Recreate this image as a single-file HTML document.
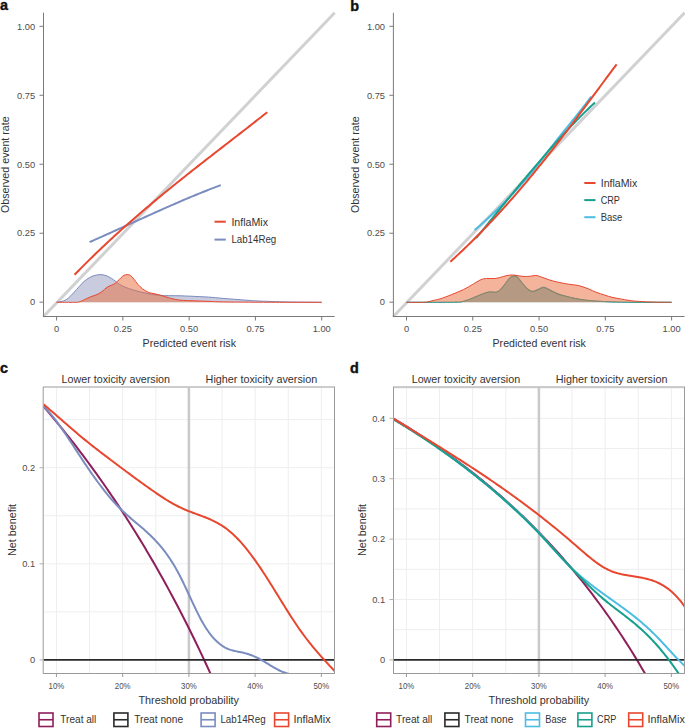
<!DOCTYPE html>
<html><head><meta charset="utf-8"><style>
html,body{margin:0;padding:0;background:#fff;width:685px;height:728px;overflow:hidden}
svg{display:block;font-family:"Liberation Sans", sans-serif}
</style></head><body>
<svg width="685" height="728" viewBox="0 0 685 728">
<rect width="685" height="728" fill="#fff"/>
<g id="panel-a">
<line x1="43.5" y1="316.5" x2="334.7" y2="12.7" stroke="#d0d1d3" stroke-width="3" stroke-linecap="butt"/>
<path d="M56.6,302.3 C57.33,302.18 59.38,302.03 61,301.6 C62.62,301.17 64.63,300.72 66.3,299.7 C67.97,298.68 69.28,297.2 71,295.5 C72.72,293.8 74.85,291.42 76.6,289.5 C78.35,287.58 79.8,285.7 81.5,284 C83.2,282.3 84.88,280.63 86.8,279.3 C88.72,277.97 90.78,276.78 93,276 C95.22,275.22 97.93,274.67 100.1,274.6 C102.27,274.53 104.13,274.98 106,275.6 C107.87,276.22 109.72,277.37 111.3,278.3 C112.88,279.23 114.13,280.18 115.5,281.2 C116.87,282.22 117.83,283.38 119.5,284.4 C121.17,285.42 123.47,286.45 125.5,287.3 C127.53,288.15 129.28,288.75 131.7,289.5 C134.12,290.25 137.27,291.12 140,291.8 C142.73,292.48 145.43,293.07 148.1,293.6 C150.77,294.13 153.28,294.67 156,295 C158.72,295.33 161.73,295.48 164.4,295.6 C167.07,295.72 169.4,295.67 172,295.7 C174.6,295.73 177,295.72 180,295.8 C183,295.88 185.25,295.98 190,296.2 C194.75,296.42 203.17,296.75 208.5,297.1 C213.83,297.45 217.63,297.93 222,298.3 C226.37,298.67 230.2,298.95 234.7,299.3 C239.2,299.65 244.25,300.08 249,300.4 C253.75,300.72 256.37,300.93 263.2,301.2 C270.03,301.47 280.25,301.82 290,302 C299.75,302.18 316.42,302.25 321.7,302.3 L321.7,302.3 L56.6,302.3 Z" stroke="none" stroke-width="1" fill="#9199bd" fill-opacity="0.5"/>
<path d="M56.6,302.3 C57.33,302.18 59.38,302.03 61,301.6 C62.62,301.17 64.63,300.72 66.3,299.7 C67.97,298.68 69.28,297.2 71,295.5 C72.72,293.8 74.85,291.42 76.6,289.5 C78.35,287.58 79.8,285.7 81.5,284 C83.2,282.3 84.88,280.63 86.8,279.3 C88.72,277.97 90.78,276.78 93,276 C95.22,275.22 97.93,274.67 100.1,274.6 C102.27,274.53 104.13,274.98 106,275.6 C107.87,276.22 109.72,277.37 111.3,278.3 C112.88,279.23 114.13,280.18 115.5,281.2 C116.87,282.22 117.83,283.38 119.5,284.4 C121.17,285.42 123.47,286.45 125.5,287.3 C127.53,288.15 129.28,288.75 131.7,289.5 C134.12,290.25 137.27,291.12 140,291.8 C142.73,292.48 145.43,293.07 148.1,293.6 C150.77,294.13 153.28,294.67 156,295 C158.72,295.33 161.73,295.48 164.4,295.6 C167.07,295.72 169.4,295.67 172,295.7 C174.6,295.73 177,295.72 180,295.8 C183,295.88 185.25,295.98 190,296.2 C194.75,296.42 203.17,296.75 208.5,297.1 C213.83,297.45 217.63,297.93 222,298.3 C226.37,298.67 230.2,298.95 234.7,299.3 C239.2,299.65 244.25,300.08 249,300.4 C253.75,300.72 256.37,300.93 263.2,301.2 C270.03,301.47 280.25,301.82 290,302 C299.75,302.18 316.42,302.25 321.7,302.3" stroke="#7b8cbf" stroke-width="1" fill="none"/>
<path d="M56.6,302.3 C58.83,302.3 66.33,302.33 70,302.3 C73.67,302.27 76.18,302.55 78.6,302.1 C81.02,301.65 82.45,300.5 84.5,299.6 C86.55,298.7 89.15,297.42 90.9,296.7 C92.65,295.98 93.65,295.82 95,295.3 C96.35,294.78 97.67,294.35 99,293.6 C100.33,292.85 101.8,291.75 103,290.8 C104.2,289.85 105.03,288.73 106.2,287.9 C107.37,287.07 108.8,286.38 110,285.8 C111.2,285.22 112.32,285 113.4,284.4 C114.48,283.8 115.48,283.05 116.5,282.2 C117.52,281.35 118.5,280.28 119.5,279.3 C120.5,278.32 121.48,277.05 122.5,276.3 C123.52,275.55 124.6,275.07 125.6,274.8 C126.6,274.53 127.65,274.57 128.5,274.7 C129.35,274.83 129.78,274.85 130.7,275.6 C131.62,276.35 132.8,277.73 134,279.2 C135.2,280.67 136.48,282.8 137.9,284.4 C139.32,286 140.8,287.5 142.5,288.8 C144.2,290.1 146.35,291.42 148.1,292.2 C149.85,292.98 151.3,293.1 153,293.5 C154.7,293.9 156.63,294.18 158.3,294.6 C159.97,295.02 161.3,295.48 163,296 C164.7,296.52 166.67,297.18 168.5,297.7 C170.33,298.22 171.95,298.68 174,299.1 C176.05,299.52 177.62,299.92 180.8,300.2 C183.98,300.48 188.23,300.6 193.1,300.8 C197.97,301 204.88,301.22 210,301.4 C215.12,301.58 215.47,301.77 223.8,301.9 C232.13,302.03 243.68,302.13 260,302.2 C276.32,302.27 311.42,302.28 321.7,302.3 L321.7,302.3 L56.6,302.3 Z" stroke="none" stroke-width="1" fill="#e96939" fill-opacity="0.5"/>
<path d="M56.6,302.3 C58.83,302.3 66.33,302.33 70,302.3 C73.67,302.27 76.18,302.55 78.6,302.1 C81.02,301.65 82.45,300.5 84.5,299.6 C86.55,298.7 89.15,297.42 90.9,296.7 C92.65,295.98 93.65,295.82 95,295.3 C96.35,294.78 97.67,294.35 99,293.6 C100.33,292.85 101.8,291.75 103,290.8 C104.2,289.85 105.03,288.73 106.2,287.9 C107.37,287.07 108.8,286.38 110,285.8 C111.2,285.22 112.32,285 113.4,284.4 C114.48,283.8 115.48,283.05 116.5,282.2 C117.52,281.35 118.5,280.28 119.5,279.3 C120.5,278.32 121.48,277.05 122.5,276.3 C123.52,275.55 124.6,275.07 125.6,274.8 C126.6,274.53 127.65,274.57 128.5,274.7 C129.35,274.83 129.78,274.85 130.7,275.6 C131.62,276.35 132.8,277.73 134,279.2 C135.2,280.67 136.48,282.8 137.9,284.4 C139.32,286 140.8,287.5 142.5,288.8 C144.2,290.1 146.35,291.42 148.1,292.2 C149.85,292.98 151.3,293.1 153,293.5 C154.7,293.9 156.63,294.18 158.3,294.6 C159.97,295.02 161.3,295.48 163,296 C164.7,296.52 166.67,297.18 168.5,297.7 C170.33,298.22 171.95,298.68 174,299.1 C176.05,299.52 177.62,299.92 180.8,300.2 C183.98,300.48 188.23,300.6 193.1,300.8 C197.97,301 204.88,301.22 210,301.4 C215.12,301.58 215.47,301.77 223.8,301.9 C232.13,302.03 243.68,302.13 260,302.2 C276.32,302.27 311.42,302.28 321.7,302.3" stroke="#e8472f" stroke-width="1" fill="none"/>
<path d="M89.6,242.1 L91.59,241.22 L93.58,240.34 L95.56,239.46 L97.55,238.58 L99.54,237.69 L101.53,236.8 L103.52,235.91 L105.5,235.02 L107.49,234.13 L109.48,233.23 L111.47,232.33 L113.45,231.43 L115.44,230.53 L117.43,229.63 L119.42,228.73 L121.41,227.83 L123.39,226.92 L125.38,226.02 L127.37,225.11 L129.36,224.21 L131.35,223.31 L133.33,222.4 L135.32,221.5 L137.31,220.59 L139.3,219.69 L141.28,218.79 L143.27,217.89 L145.26,216.99 L147.25,216.09 L149.24,215.19 L151.22,214.3 L153.21,213.4 L155.2,212.51 L157.19,211.62 L159.18,210.73 L161.16,209.84 L163.15,208.96 L165.14,208.08 L167.13,207.2 L169.12,206.33 L171.1,205.45 L173.09,204.59 L175.08,203.72 L177.07,202.86 L179.05,202 L181.04,201.15 L183.03,200.29 L185.02,199.45 L187.01,198.61 L188.99,197.77 L190.98,196.94 L192.97,196.11 L194.96,195.28 L196.95,194.47 L198.93,193.65 L200.92,192.84 L202.91,192.04 L204.9,191.24 L206.88,190.45 L208.87,189.67 L210.86,188.89 L212.85,188.12 L214.84,187.35 L216.82,186.59 L218.81,185.84 L220.8,185.09" stroke="#7b8cbf" stroke-width="2" fill="none"/>
<path d="M74.5,274.79 L76.51,272.73 L78.52,270.68 L80.53,268.64 L82.53,266.62 L84.54,264.6 L86.55,262.6 L88.56,260.62 L90.57,258.64 L92.58,256.68 L94.58,254.73 L96.59,252.79 L98.6,250.86 L100.61,248.95 L102.62,247.04 L104.62,245.15 L106.63,243.26 L108.64,241.39 L110.65,239.53 L112.66,237.68 L114.67,235.84 L116.67,234.01 L118.68,232.18 L120.69,230.37 L122.7,228.57 L124.71,226.78 L126.72,224.99 L128.72,223.22 L130.73,221.45 L132.74,219.69 L134.75,217.95 L136.76,216.2 L138.77,214.47 L140.78,212.75 L142.78,211.03 L144.79,209.32 L146.8,207.62 L148.81,205.92 L150.82,204.23 L152.82,202.55 L154.83,200.88 L156.84,199.21 L158.85,197.54 L160.86,195.89 L162.87,194.24 L164.88,192.59 L166.88,190.95 L168.89,189.32 L170.9,187.69 L172.91,186.07 L174.92,184.45 L176.93,182.84 L178.93,181.23 L180.94,179.62 L182.95,178.02 L184.96,176.42 L186.97,174.83 L188.97,173.24 L190.98,171.65 L192.99,170.07 L195,168.49 L197.01,166.91 L199.02,165.34 L201.02,163.77 L203.03,162.2 L205.04,160.63 L207.05,159.07 L209.06,157.5 L211.07,155.94 L213.07,154.38 L215.08,152.82 L217.09,151.27 L219.1,149.71 L221.11,148.15 L223.12,146.6 L225.12,145.04 L227.13,143.49 L229.14,141.93 L231.15,140.38 L233.16,138.82 L235.17,137.27 L237.18,135.71 L239.18,134.16 L241.19,132.6 L243.2,131.04 L245.21,129.48 L247.22,127.92 L249.22,126.35 L251.23,124.79 L253.24,123.22 L255.25,121.65 L257.26,120.08 L259.27,118.5 L261.27,116.93 L263.28,115.34 L265.29,113.76 L267.3,112.17" stroke="#e8472f" stroke-width="2" fill="none"/>
<line x1="43.5" y1="12.7" x2="43.5" y2="317" stroke="#7a7a7a" stroke-width="1"/>
<line x1="43" y1="316.5" x2="334.7" y2="316.5" stroke="#7a7a7a" stroke-width="1"/>
<line x1="39.5" y1="302.2" x2="43.5" y2="302.2" stroke="#7a7a7a" stroke-width="1"/>
<text x="35.1" y="305.45" font-size="9.3" fill="#4d4d4d" text-anchor="end">0</text>
<line x1="56.6" y1="316.5" x2="56.6" y2="320.5" stroke="#7a7a7a" stroke-width="1"/>
<text x="56.6" y="331.5" font-size="9.3" fill="#4d4d4d" text-anchor="middle">0</text>
<line x1="39.5" y1="233.22" x2="43.5" y2="233.22" stroke="#7a7a7a" stroke-width="1"/>
<text x="35.1" y="236.47" font-size="9.3" fill="#4d4d4d" text-anchor="end">0.25</text>
<line x1="122.88" y1="316.5" x2="122.88" y2="320.5" stroke="#7a7a7a" stroke-width="1"/>
<text x="122.88" y="331.5" font-size="9.3" fill="#4d4d4d" text-anchor="middle">0.25</text>
<line x1="39.5" y1="164.25" x2="43.5" y2="164.25" stroke="#7a7a7a" stroke-width="1"/>
<text x="35.1" y="167.5" font-size="9.3" fill="#4d4d4d" text-anchor="end">0.50</text>
<line x1="189.15" y1="316.5" x2="189.15" y2="320.5" stroke="#7a7a7a" stroke-width="1"/>
<text x="189.15" y="331.5" font-size="9.3" fill="#4d4d4d" text-anchor="middle">0.50</text>
<line x1="39.5" y1="95.28" x2="43.5" y2="95.28" stroke="#7a7a7a" stroke-width="1"/>
<text x="35.1" y="98.53" font-size="9.3" fill="#4d4d4d" text-anchor="end">0.75</text>
<line x1="255.43" y1="316.5" x2="255.43" y2="320.5" stroke="#7a7a7a" stroke-width="1"/>
<text x="255.43" y="331.5" font-size="9.3" fill="#4d4d4d" text-anchor="middle">0.75</text>
<line x1="39.5" y1="26.3" x2="43.5" y2="26.3" stroke="#7a7a7a" stroke-width="1"/>
<text x="35.1" y="29.55" font-size="9.3" fill="#4d4d4d" text-anchor="end">1.00</text>
<line x1="321.7" y1="316.5" x2="321.7" y2="320.5" stroke="#7a7a7a" stroke-width="1"/>
<text x="321.7" y="331.5" font-size="9.3" fill="#4d4d4d" text-anchor="middle">1.00</text>
<line x1="214.5" y1="221.7" x2="225.8" y2="221.7" stroke="#e8472f" stroke-width="2"/>
<line x1="214.5" y1="239.6" x2="225.8" y2="239.6" stroke="#7b8cbf" stroke-width="2"/>
<text x="231.4" y="225.5" font-size="10.6" fill="#333333" textLength="36.6" lengthAdjust="spacingAndGlyphs">InflaMix</text>
<text x="231.4" y="243.3" font-size="10.6" fill="#333333" textLength="44.9" lengthAdjust="spacingAndGlyphs">Lab14Reg</text>
<text x="189.3" y="347.2" font-size="10.7" fill="#333333" text-anchor="middle" textLength="93.4" lengthAdjust="spacingAndGlyphs">Predicted event risk</text>
<text x="9.4" y="164.7" font-size="10.7" fill="#333333" text-anchor="middle" textLength="96.7" lengthAdjust="spacingAndGlyphs" transform="rotate(-90 9.4 164.7)">Observed event rate</text>
<text x="0" y="9.7" font-size="14.4" fill="#111" font-weight="bold" stroke="#111" stroke-width="0.4">a</text>
</g>
<g id="panel-b">
<line x1="393.4" y1="316.5" x2="684.6" y2="12.7" stroke="#d0d1d3" stroke-width="3" stroke-linecap="butt"/>
<path d="M406.5,302.3 C412.08,302.3 431.92,302.32 440,302.3 C448.08,302.28 451.5,302.27 455,302.2 C458.5,302.13 458.63,302.35 461,301.9 C463.37,301.45 466.47,300.48 469.2,299.5 C471.93,298.52 474.48,297.17 477.4,296 C480.32,294.83 484.37,293.18 486.7,292.5 C489.03,291.82 489.83,291.95 491.4,291.9 C492.97,291.85 494.55,292.68 496.1,292.2 C497.65,291.72 499.15,290.5 500.7,289 C502.25,287.5 503.83,285.15 505.4,283.2 C506.97,281.25 508.63,278.57 510.1,277.3 C511.57,276.03 513.05,275.77 514.2,275.6 C515.35,275.43 516.13,275.72 517,276.3 C517.87,276.88 518.57,278.07 519.4,279.1 C520.23,280.13 521.12,281.43 522,282.5 C522.88,283.57 523.78,284.48 524.7,285.5 C525.62,286.52 526.53,287.77 527.5,288.6 C528.47,289.43 529.52,290.1 530.5,290.5 C531.48,290.9 532.15,291.22 533.4,291 C534.65,290.78 536.3,289.87 538,289.2 C539.7,288.53 541.77,287 543.6,287 C545.43,287 546.73,288.15 549,289.2 C551.27,290.25 554.37,292.12 557.2,293.3 C560.03,294.48 562.98,295.43 566,296.3 C569.02,297.17 571.97,297.85 575.3,298.5 C578.63,299.15 582.23,299.75 586,300.2 C589.77,300.65 593.57,300.92 597.9,301.2 C602.23,301.48 606.35,301.72 612,301.9 C617.65,302.08 621.87,302.23 631.8,302.3 C641.73,302.37 664.97,302.3 671.6,302.3 L671.6,302.3 L406.5,302.3 Z" stroke="none" stroke-width="1" fill="#83c9cb"/>
<path d="M406.5,302.3 C412.08,302.3 431.92,302.32 440,302.3 C448.08,302.28 451.5,302.27 455,302.2 C458.5,302.13 458.63,302.35 461,301.9 C463.37,301.45 466.47,300.48 469.2,299.5 C471.93,298.52 474.48,297.17 477.4,296 C480.32,294.83 484.37,293.18 486.7,292.5 C489.03,291.82 489.83,291.95 491.4,291.9 C492.97,291.85 494.55,292.68 496.1,292.2 C497.65,291.72 499.15,290.5 500.7,289 C502.25,287.5 503.83,285.15 505.4,283.2 C506.97,281.25 508.63,278.57 510.1,277.3 C511.57,276.03 513.05,275.77 514.2,275.6 C515.35,275.43 516.13,275.72 517,276.3 C517.87,276.88 518.57,278.07 519.4,279.1 C520.23,280.13 521.12,281.43 522,282.5 C522.88,283.57 523.78,284.48 524.7,285.5 C525.62,286.52 526.53,287.77 527.5,288.6 C528.47,289.43 529.52,290.1 530.5,290.5 C531.48,290.9 532.15,291.22 533.4,291 C534.65,290.78 536.3,289.87 538,289.2 C539.7,288.53 541.77,287 543.6,287 C545.43,287 546.73,288.15 549,289.2 C551.27,290.25 554.37,292.12 557.2,293.3 C560.03,294.48 562.98,295.43 566,296.3 C569.02,297.17 571.97,297.85 575.3,298.5 C578.63,299.15 582.23,299.75 586,300.2 C589.77,300.65 593.57,300.92 597.9,301.2 C602.23,301.48 606.35,301.72 612,301.9 C617.65,302.08 621.87,302.23 631.8,302.3 C641.73,302.37 664.97,302.3 671.6,302.3" stroke="#4cbde3" stroke-width="1" fill="none"/>
<path d="M406.5,302.3 C412.08,302.3 431.92,302.32 440,302.3 C448.08,302.28 451.5,302.27 455,302.2 C458.5,302.13 458.63,302.35 461,301.9 C463.37,301.45 466.47,300.48 469.2,299.5 C471.93,298.52 474.48,297.17 477.4,296 C480.32,294.83 484.37,293.18 486.7,292.5 C489.03,291.82 489.83,291.95 491.4,291.9 C492.97,291.85 494.55,292.58 496.1,292.2 C497.65,291.82 499.15,291 500.7,289.6 C502.25,288.2 503.83,285.75 505.4,283.8 C506.97,281.85 508.63,279.17 510.1,277.9 C511.57,276.63 513.05,276.37 514.2,276.2 C515.35,276.03 516.13,276.32 517,276.9 C517.87,277.48 518.57,278.67 519.4,279.7 C520.23,280.73 521.12,282.03 522,283.1 C522.88,284.17 523.78,285.08 524.7,286.1 C525.62,287.12 526.53,288.37 527.5,289.2 C528.47,290.03 529.52,290.7 530.5,291.1 C531.48,291.5 532.15,291.82 533.4,291.6 C534.65,291.38 536.3,290.47 538,289.8 C539.7,289.13 541.77,287.6 543.6,287.6 C545.43,287.6 546.73,288.75 549,289.8 C551.27,290.85 554.37,292.82 557.2,293.9 C560.03,294.98 562.98,295.53 566,296.3 C569.02,297.07 571.97,297.85 575.3,298.5 C578.63,299.15 582.23,299.75 586,300.2 C589.77,300.65 593.57,300.92 597.9,301.2 C602.23,301.48 606.35,301.72 612,301.9 C617.65,302.08 621.87,302.23 631.8,302.3 C641.73,302.37 664.97,302.3 671.6,302.3" stroke="#17a08c" stroke-width="1" fill="none"/>
<path d="M406.5,302.3 C408.42,302.3 414.65,302.33 418,302.3 C421.35,302.27 424.1,302.4 426.6,302.1 C429.1,301.8 430.77,301.03 433,300.5 C435.23,299.97 436.88,299.88 440,298.9 C443.12,297.92 447.8,296.15 451.7,294.6 C455.6,293.05 459.9,291.3 463.4,289.6 C466.9,287.9 469.78,286.05 472.7,284.4 C475.62,282.75 478.57,280.68 480.9,279.7 C483.23,278.72 484.37,278.7 486.7,278.5 C489.03,278.3 492.57,278.7 494.9,278.5 C497.23,278.3 498.75,277.78 500.7,277.3 C502.65,276.82 504.65,275.98 506.6,275.6 C508.55,275.22 510.65,275.02 512.4,275 C514.15,274.98 515.33,275.27 517.1,275.5 C518.87,275.73 520.85,276.27 523,276.4 C525.15,276.53 527.88,276.47 530,276.3 C532.12,276.13 533.82,275.28 535.7,275.4 C537.58,275.52 539.08,276.27 541.3,277 C543.52,277.73 546.35,278.97 549,279.8 C551.65,280.63 553.95,281.27 557.2,282 C560.45,282.73 564.92,283.6 568.5,284.2 C572.08,284.8 575.32,284.8 578.7,285.6 C582.08,286.4 585.92,287.9 588.8,289 C591.68,290.1 593.35,291.18 596,292.2 C598.65,293.22 602.03,294.25 604.7,295.1 C607.37,295.95 609.37,296.67 612,297.3 C614.63,297.93 617.67,298.38 620.5,298.9 C623.33,299.42 625.98,299.98 629,300.4 C632.02,300.82 634.27,301.12 638.6,301.4 C642.93,301.68 649.5,301.95 655,302.1 C660.5,302.25 668.83,302.27 671.6,302.3 L671.6,302.3 L406.5,302.3 Z" stroke="none" stroke-width="1" fill="#e96939" fill-opacity="0.5"/>
<path d="M406.5,302.3 C408.42,302.3 414.65,302.33 418,302.3 C421.35,302.27 424.1,302.4 426.6,302.1 C429.1,301.8 430.77,301.03 433,300.5 C435.23,299.97 436.88,299.88 440,298.9 C443.12,297.92 447.8,296.15 451.7,294.6 C455.6,293.05 459.9,291.3 463.4,289.6 C466.9,287.9 469.78,286.05 472.7,284.4 C475.62,282.75 478.57,280.68 480.9,279.7 C483.23,278.72 484.37,278.7 486.7,278.5 C489.03,278.3 492.57,278.7 494.9,278.5 C497.23,278.3 498.75,277.78 500.7,277.3 C502.65,276.82 504.65,275.98 506.6,275.6 C508.55,275.22 510.65,275.02 512.4,275 C514.15,274.98 515.33,275.27 517.1,275.5 C518.87,275.73 520.85,276.27 523,276.4 C525.15,276.53 527.88,276.47 530,276.3 C532.12,276.13 533.82,275.28 535.7,275.4 C537.58,275.52 539.08,276.27 541.3,277 C543.52,277.73 546.35,278.97 549,279.8 C551.65,280.63 553.95,281.27 557.2,282 C560.45,282.73 564.92,283.6 568.5,284.2 C572.08,284.8 575.32,284.8 578.7,285.6 C582.08,286.4 585.92,287.9 588.8,289 C591.68,290.1 593.35,291.18 596,292.2 C598.65,293.22 602.03,294.25 604.7,295.1 C607.37,295.95 609.37,296.67 612,297.3 C614.63,297.93 617.67,298.38 620.5,298.9 C623.33,299.42 625.98,299.98 629,300.4 C632.02,300.82 634.27,301.12 638.6,301.4 C642.93,301.68 649.5,301.95 655,302.1 C660.5,302.25 668.83,302.27 671.6,302.3" stroke="#e8472f" stroke-width="1" fill="none"/>
<path d="M474.6,230.09 L476.09,228.8 L477.59,227.5 L479.08,226.2 L480.58,224.89 L482.07,223.56 L483.57,222.23 L485.06,220.89 L486.56,219.53 L488.05,218.17 L489.55,216.79 L491.04,215.41 L492.54,214.01 L494.03,212.59 L495.53,211.17 L497.02,209.73 L498.52,208.28 L500.01,206.82 L501.51,205.34 L503,203.85 L504.5,202.35 L505.99,200.83 L507.49,199.29 L508.98,197.74 L510.48,196.18 L511.97,194.59 L513.47,192.99 L514.96,191.38 L516.46,189.75 L517.95,188.09 L519.45,186.43 L520.94,184.74 L522.44,183.04 L523.93,181.31 L525.43,179.57 L526.92,177.81 L528.42,176.03 L529.91,174.23 L531.41,172.41 L532.9,170.57 L534.39,168.71 L535.89,166.84 L537.38,164.95 L538.88,163.06 L540.37,161.15 L541.87,159.24 L543.36,157.32 L544.86,155.4 L546.35,153.47 L547.85,151.55 L549.34,149.62 L550.84,147.7 L552.33,145.79 L553.83,143.88 L555.32,141.98 L556.82,140.09 L558.31,138.2 L559.81,136.32 L561.3,134.45 L562.8,132.59 L564.29,130.73 L565.79,128.88 L567.28,127.03 L568.78,125.19 L570.27,123.34 L571.77,121.5 L573.26,119.65 L574.76,117.8 L576.25,115.94 L577.75,114.07 L579.24,112.19 L580.74,110.3 L582.23,108.39 L583.73,106.47 L585.22,104.53 L586.72,102.57 L588.21,100.59 L589.71,98.59 L591.2,96.56" stroke="#4cbde3" stroke-width="2" fill="none"/>
<path d="M476.2,238.06 L477.7,236.22 L479.21,234.39 L480.71,232.55 L482.21,230.71 L483.71,228.86 L485.22,227.02 L486.72,225.18 L488.22,223.33 L489.72,221.49 L491.23,219.64 L492.73,217.79 L494.23,215.95 L495.73,214.1 L497.24,212.25 L498.74,210.41 L500.24,208.56 L501.74,206.72 L503.25,204.88 L504.75,203.04 L506.25,201.2 L507.75,199.36 L509.26,197.52 L510.76,195.69 L512.26,193.86 L513.76,192.03 L515.27,190.2 L516.77,188.38 L518.27,186.56 L519.77,184.75 L521.28,182.93 L522.78,181.12 L524.28,179.32 L525.78,177.52 L527.29,175.72 L528.79,173.93 L530.29,172.14 L531.79,170.36 L533.3,168.58 L534.8,166.81 L536.3,165.04 L537.8,163.28 L539.31,161.53 L540.81,159.78 L542.31,158.03 L543.81,156.3 L545.32,154.57 L546.82,152.85 L548.32,151.13 L549.82,149.42 L551.33,147.72 L552.83,146.03 L554.33,144.34 L555.83,142.67 L557.34,141 L558.84,139.34 L560.34,137.69 L561.84,136.05 L563.35,134.41 L564.85,132.79 L566.35,131.17 L567.85,129.57 L569.36,127.97 L570.86,126.39 L572.36,124.82 L573.86,123.25 L575.37,121.7 L576.87,120.16 L578.37,118.62 L579.87,117.1 L581.38,115.6 L582.88,114.1 L584.38,112.61 L585.88,111.14 L587.39,109.68 L588.89,108.23 L590.39,106.8 L591.89,105.37 L593.4,103.96 L594.9,102.57" stroke="#17a08c" stroke-width="2" fill="none"/>
<path d="M450.3,261.74 L451.8,260.39 L453.3,259.02 L454.79,257.65 L456.29,256.27 L457.79,254.88 L459.29,253.48 L460.79,252.07 L462.29,250.66 L463.78,249.23 L465.28,247.8 L466.78,246.35 L468.28,244.9 L469.78,243.44 L471.27,241.97 L472.77,240.49 L474.27,239 L475.77,237.51 L477.27,236 L478.77,234.49 L480.26,232.97 L481.76,231.43 L483.26,229.89 L484.76,228.35 L486.26,226.79 L487.75,225.22 L489.25,223.65 L490.75,222.06 L492.25,220.47 L493.75,218.87 L495.25,217.26 L496.74,215.65 L498.24,214.02 L499.74,212.39 L501.24,210.75 L502.74,209.09 L504.24,207.43 L505.73,205.77 L507.23,204.09 L508.73,202.41 L510.23,200.71 L511.73,199.01 L513.22,197.3 L514.72,195.59 L516.22,193.86 L517.72,192.12 L519.22,190.38 L520.72,188.63 L522.21,186.87 L523.71,185.11 L525.21,183.33 L526.71,181.55 L528.21,179.75 L529.7,177.95 L531.2,176.15 L532.7,174.33 L534.2,172.51 L535.7,170.68 L537.2,168.83 L538.69,166.99 L540.19,165.13 L541.69,163.27 L543.19,161.4 L544.69,159.52 L546.18,157.63 L547.68,155.74 L549.18,153.84 L550.68,151.93 L552.18,150.01 L553.68,148.09 L555.17,146.17 L556.67,144.24 L558.17,142.3 L559.67,140.35 L561.17,138.41 L562.66,136.45 L564.16,134.49 L565.66,132.53 L567.16,130.56 L568.66,128.59 L570.16,126.61 L571.65,124.63 L573.15,122.65 L574.65,120.66 L576.15,118.67 L577.65,116.68 L579.15,114.68 L580.64,112.68 L582.14,110.68 L583.64,108.67 L585.14,106.66 L586.64,104.66 L588.13,102.65 L589.63,100.63 L591.13,98.62 L592.63,96.61 L594.13,94.59 L595.63,92.57 L597.12,90.56 L598.62,88.54 L600.12,86.52 L601.62,84.5 L603.12,82.49 L604.61,80.47 L606.11,78.45 L607.61,76.44 L609.11,74.43 L610.61,72.41 L612.11,70.4 L613.6,68.39 L615.1,66.38 L616.6,64.38" stroke="#e8472f" stroke-width="2" fill="none"/>
<line x1="393.4" y1="12.7" x2="393.4" y2="317" stroke="#7a7a7a" stroke-width="1"/>
<line x1="392.9" y1="316.5" x2="684.6" y2="316.5" stroke="#7a7a7a" stroke-width="1"/>
<line x1="389.4" y1="302.2" x2="393.4" y2="302.2" stroke="#7a7a7a" stroke-width="1"/>
<text x="385" y="305.45" font-size="9.3" fill="#4d4d4d" text-anchor="end">0</text>
<line x1="406.5" y1="316.5" x2="406.5" y2="320.5" stroke="#7a7a7a" stroke-width="1"/>
<text x="406.5" y="331.5" font-size="9.3" fill="#4d4d4d" text-anchor="middle">0</text>
<line x1="389.4" y1="233.22" x2="393.4" y2="233.22" stroke="#7a7a7a" stroke-width="1"/>
<text x="385" y="236.47" font-size="9.3" fill="#4d4d4d" text-anchor="end">0.25</text>
<line x1="472.77" y1="316.5" x2="472.77" y2="320.5" stroke="#7a7a7a" stroke-width="1"/>
<text x="472.77" y="331.5" font-size="9.3" fill="#4d4d4d" text-anchor="middle">0.25</text>
<line x1="389.4" y1="164.25" x2="393.4" y2="164.25" stroke="#7a7a7a" stroke-width="1"/>
<text x="385" y="167.5" font-size="9.3" fill="#4d4d4d" text-anchor="end">0.50</text>
<line x1="539.05" y1="316.5" x2="539.05" y2="320.5" stroke="#7a7a7a" stroke-width="1"/>
<text x="539.05" y="331.5" font-size="9.3" fill="#4d4d4d" text-anchor="middle">0.50</text>
<line x1="389.4" y1="95.28" x2="393.4" y2="95.28" stroke="#7a7a7a" stroke-width="1"/>
<text x="385" y="98.53" font-size="9.3" fill="#4d4d4d" text-anchor="end">0.75</text>
<line x1="605.33" y1="316.5" x2="605.33" y2="320.5" stroke="#7a7a7a" stroke-width="1"/>
<text x="605.33" y="331.5" font-size="9.3" fill="#4d4d4d" text-anchor="middle">0.75</text>
<line x1="389.4" y1="26.3" x2="393.4" y2="26.3" stroke="#7a7a7a" stroke-width="1"/>
<text x="385" y="29.55" font-size="9.3" fill="#4d4d4d" text-anchor="end">1.00</text>
<line x1="671.6" y1="316.5" x2="671.6" y2="320.5" stroke="#7a7a7a" stroke-width="1"/>
<text x="671.6" y="331.5" font-size="9.3" fill="#4d4d4d" text-anchor="middle">1.00</text>
<line x1="584.3" y1="183" x2="595.5" y2="183" stroke="#e8472f" stroke-width="2"/>
<line x1="584.3" y1="200.1" x2="595.5" y2="200.1" stroke="#17a08c" stroke-width="2"/>
<line x1="584.3" y1="217.2" x2="595.5" y2="217.2" stroke="#4cbde3" stroke-width="2"/>
<text x="600.7" y="186.7" font-size="10.6" fill="#333333" textLength="36.5" lengthAdjust="spacingAndGlyphs">InflaMix</text>
<text x="600.7" y="203.8" font-size="10.6" fill="#333333" textLength="19.2" lengthAdjust="spacingAndGlyphs">CRP</text>
<text x="600.7" y="220.9" font-size="10.6" fill="#333333" textLength="21.6" lengthAdjust="spacingAndGlyphs">Base</text>
<text x="539.2" y="347.2" font-size="10.7" fill="#333333" text-anchor="middle" textLength="93.4" lengthAdjust="spacingAndGlyphs">Predicted event risk</text>
<text x="359.4" y="164.7" font-size="10.7" fill="#333333" text-anchor="middle" textLength="96.7" lengthAdjust="spacingAndGlyphs" transform="rotate(-90 359.4 164.7)">Observed event rate</text>
<text x="350.2" y="10.6" font-size="14.4" fill="#111" font-weight="bold" stroke="#111" stroke-width="0.4">b</text>
</g>
<g>
<line x1="56.45" y1="387.5" x2="56.45" y2="673.5" stroke="#edeef0" stroke-width="1"/>
<line x1="89.56" y1="387.5" x2="89.56" y2="673.5" stroke="#edeef0" stroke-width="1"/>
<line x1="122.67" y1="387.5" x2="122.67" y2="673.5" stroke="#edeef0" stroke-width="1"/>
<line x1="155.79" y1="387.5" x2="155.79" y2="673.5" stroke="#edeef0" stroke-width="1"/>
<line x1="188.9" y1="387.5" x2="188.9" y2="673.5" stroke="#edeef0" stroke-width="1"/>
<line x1="222.01" y1="387.5" x2="222.01" y2="673.5" stroke="#edeef0" stroke-width="1"/>
<line x1="255.12" y1="387.5" x2="255.12" y2="673.5" stroke="#edeef0" stroke-width="1"/>
<line x1="288.24" y1="387.5" x2="288.24" y2="673.5" stroke="#edeef0" stroke-width="1"/>
<line x1="321.35" y1="387.5" x2="321.35" y2="673.5" stroke="#edeef0" stroke-width="1"/>
<line x1="43.5" y1="659.9" x2="334.5" y2="659.9" stroke="#edeef0" stroke-width="1"/>
<line x1="43.5" y1="611.85" x2="334.5" y2="611.85" stroke="#edeef0" stroke-width="1"/>
<line x1="43.5" y1="563.8" x2="334.5" y2="563.8" stroke="#edeef0" stroke-width="1"/>
<line x1="43.5" y1="515.75" x2="334.5" y2="515.75" stroke="#edeef0" stroke-width="1"/>
<line x1="43.5" y1="467.7" x2="334.5" y2="467.7" stroke="#edeef0" stroke-width="1"/>
<line x1="43.5" y1="419.65" x2="334.5" y2="419.65" stroke="#edeef0" stroke-width="1"/>
<clipPath id="clipc"><rect x="43.5" y="387.5" width="291" height="286"/></clipPath>
<g clip-path="url(#clipc)">
<line x1="188.9" y1="387.5" x2="188.9" y2="673.5" stroke="#c9c9cb" stroke-width="2.5"/>
<path d="M43.21,406.07 C43.76,406.71 45.41,408.64 46.52,409.93 C47.62,411.23 48.72,412.53 49.83,413.84 C50.93,415.15 52.04,416.47 53.14,417.79 C54.24,419.12 55.35,420.45 56.45,421.79 C57.55,423.12 58.66,424.47 59.76,425.82 C60.87,427.18 61.97,428.54 63.07,429.91 C64.18,431.28 65.28,432.65 66.38,434.04 C67.49,435.42 68.59,436.81 69.7,438.21 C70.8,439.62 71.9,441.02 73.01,442.44 C74.11,443.86 75.21,445.28 76.32,446.71 C77.42,448.15 78.52,449.59 79.63,451.04 C80.73,452.48 81.84,453.94 82.94,455.41 C84.04,456.87 85.15,458.35 86.25,459.83 C87.36,461.32 88.46,462.81 89.56,464.31 C90.67,465.81 91.77,467.32 92.87,468.84 C93.98,470.36 95.08,471.88 96.19,473.42 C97.29,474.96 98.39,476.5 99.5,478.06 C100.6,479.61 101.7,481.18 102.81,482.75 C103.91,484.33 105.02,485.91 106.12,487.5 C107.22,489.1 108.33,490.7 109.43,492.31 C110.53,493.92 111.64,495.55 112.74,497.18 C113.85,498.81 114.95,500.45 116.05,502.11 C117.16,503.76 118.26,505.42 119.36,507.1 C120.47,508.77 121.57,510.45 122.67,512.15 C123.78,513.84 124.88,515.55 125.99,517.26 C127.09,518.98 128.19,520.7 129.3,522.44 C130.4,524.18 131.5,525.93 132.61,527.69 C133.71,529.45 134.82,531.22 135.92,533 C137.02,534.78 138.13,536.57 139.23,538.38 C140.33,540.19 141.44,542 142.54,543.83 C143.65,545.66 144.75,547.5 145.85,549.35 C146.96,551.21 148.06,553.07 149.16,554.95 C150.27,556.83 151.37,558.72 152.48,560.62 C153.58,562.52 154.68,564.43 155.79,566.36 C156.89,568.29 158,570.23 159.1,572.18 C160.2,574.14 161.31,576.1 162.41,578.09 C163.51,580.07 164.62,582.06 165.72,584.07 C166.82,586.07 167.93,588.09 169.03,590.13 C170.14,592.16 171.24,594.21 172.34,596.28 C173.45,598.34 174.55,600.42 175.66,602.51 C176.76,604.6 177.86,606.7 178.97,608.83 C180.07,610.95 181.17,613.08 182.28,615.23 C183.38,617.38 184.49,619.55 185.59,621.73 C186.69,623.91 187.8,626.11 188.9,628.32 C190,630.54 191.11,632.77 192.21,635.01 C193.31,637.26 194.42,639.52 195.52,641.79 C196.63,644.07 197.73,646.37 198.83,648.68 C199.94,650.99 201.04,653.32 202.14,655.66 C203.25,658.01 204.35,660.37 205.46,662.75 C206.56,665.13 207.66,667.52 208.77,669.94 C209.87,672.36 210.98,674.79 212.08,677.24 C213.18,679.69 214.29,682.16 215.39,684.65 C216.49,687.14 217.6,689.65 218.7,692.18 C219.81,694.71 221.46,698.55 222.01,699.82" stroke="#8f1f5b" stroke-width="2" fill="none"/>
<line x1="43.5" y1="659.9" x2="334.5" y2="659.9" stroke="#2a2a2a" stroke-width="1.8"/>
<path d="M43.5,406.37 L45,407.82 L46.49,409.35 L47.99,410.96 L49.49,412.64 L50.98,414.39 L52.48,416.2 L53.98,418.07 L55.48,419.99 L56.97,421.97 L58.47,423.99 L59.97,426.06 L61.46,428.17 L62.96,430.32 L64.46,432.5 L65.95,434.7 L67.45,436.94 L68.95,439.19 L70.45,441.47 L71.94,443.75 L73.44,446.05 L74.94,448.35 L76.43,450.66 L77.93,452.96 L79.43,455.26 L80.92,457.55 L82.42,459.83 L83.92,462.09 L85.42,464.33 L86.91,466.55 L88.41,468.76 L89.91,470.94 L91.4,473.1 L92.9,475.23 L94.4,477.34 L95.89,479.42 L97.39,481.48 L98.89,483.51 L100.39,485.5 L101.88,487.47 L103.38,489.41 L104.88,491.31 L106.37,493.18 L107.87,495.01 L109.37,496.81 L110.86,498.57 L112.36,500.29 L113.86,501.97 L115.36,503.61 L116.85,505.2 L118.35,506.76 L119.85,508.27 L121.34,509.74 L122.84,511.17 L124.34,512.56 L125.83,513.93 L127.33,515.27 L128.83,516.58 L130.33,517.88 L131.82,519.16 L133.32,520.44 L134.82,521.7 L136.31,522.96 L137.81,524.22 L139.31,525.49 L140.8,526.77 L142.3,528.05 L143.8,529.36 L145.3,530.68 L146.79,532.03 L148.29,533.4 L149.79,534.81 L151.28,536.25 L152.78,537.74 L154.28,539.26 L155.77,540.83 L157.27,542.46 L158.77,544.14 L160.27,545.87 L161.76,547.67 L163.26,549.54 L164.76,551.48 L166.25,553.49 L167.75,555.58 L169.25,557.75 L170.74,560.01 L172.24,562.36 L173.74,564.8 L175.23,567.34 L176.73,569.98 L178.23,572.72 L179.73,575.58 L181.22,578.53 L182.72,581.56 L184.22,584.67 L185.71,587.83 L187.21,591.02 L188.71,594.24 L190.2,597.46 L191.7,600.68 L193.2,603.87 L194.7,607.03 L196.19,610.13 L197.69,613.16 L199.19,616.11 L200.68,618.96 L202.18,621.7 L203.68,624.31 L205.17,626.77 L206.67,629.1 L208.17,631.29 L209.67,633.36 L211.16,635.29 L212.66,637.09 L214.16,638.77 L215.65,640.33 L217.15,641.77 L218.65,643.1 L220.14,644.3 L221.64,645.4 L223.14,646.39 L224.64,647.28 L226.13,648.06 L227.63,648.74 L229.13,649.33 L230.62,649.85 L232.12,650.3 L233.62,650.69 L235.11,651.05 L236.61,651.37 L238.11,651.68 L239.61,651.98 L241.1,652.28 L242.6,652.6 L244.1,652.95 L245.59,653.34 L247.09,653.77 L248.59,654.24 L250.08,654.75 L251.58,655.31 L253.08,655.9 L254.58,656.54 L256.07,657.22 L257.57,657.94 L259.07,658.71 L260.56,659.52 L262.06,660.37 L263.56,661.24 L265.05,662.13 L266.55,663.04 L268.05,663.96 L269.55,664.87 L271.04,665.78 L272.54,666.68 L274.04,667.55 L275.53,668.4 L277.03,669.22 L278.53,669.99 L280.02,670.72 L281.52,671.39 L283.02,672.01 L284.52,672.56 L286.01,673.04 L287.51,673.43 L289.01,673.75 L290.5,673.97 L292,674.1" stroke="#7b8cbf" stroke-width="2" fill="none"/>
<path d="M43.5,404.24 L45,405.51 L46.51,406.8 L48.01,408.09 L49.51,409.39 L51.01,410.69 L52.52,411.99 L54.02,413.3 L55.52,414.61 L57.02,415.92 L58.53,417.23 L60.03,418.55 L61.53,419.86 L63.03,421.17 L64.54,422.49 L66.04,423.8 L67.54,425.1 L69.04,426.41 L70.55,427.71 L72.05,429.01 L73.55,430.3 L75.05,431.58 L76.56,432.86 L78.06,434.14 L79.56,435.4 L81.06,436.66 L82.57,437.91 L84.07,439.14 L85.57,440.37 L87.07,441.59 L88.58,442.8 L90.08,444 L91.58,445.2 L93.08,446.38 L94.59,447.56 L96.09,448.73 L97.59,449.9 L99.09,451.06 L100.6,452.21 L102.1,453.36 L103.6,454.51 L105.1,455.65 L106.61,456.79 L108.11,457.92 L109.61,459.06 L111.11,460.19 L112.62,461.32 L114.12,462.44 L115.62,463.57 L117.12,464.7 L118.63,465.82 L120.13,466.95 L121.63,468.07 L123.14,469.2 L124.64,470.32 L126.14,471.44 L127.64,472.55 L129.15,473.67 L130.65,474.78 L132.15,475.89 L133.65,477 L135.16,478.1 L136.66,479.2 L138.16,480.3 L139.66,481.39 L141.17,482.47 L142.67,483.56 L144.17,484.64 L145.67,485.71 L147.18,486.78 L148.68,487.84 L150.18,488.9 L151.68,489.95 L153.19,490.99 L154.69,492.03 L156.19,493.06 L157.69,494.09 L159.2,495.1 L160.7,496.11 L162.2,497.11 L163.7,498.09 L165.21,499.06 L166.71,500.01 L168.21,500.94 L169.71,501.84 L171.22,502.73 L172.72,503.58 L174.22,504.41 L175.72,505.21 L177.23,505.99 L178.73,506.73 L180.23,507.46 L181.73,508.15 L183.24,508.83 L184.74,509.49 L186.24,510.12 L187.74,510.74 L189.25,511.34 L190.75,511.92 L192.25,512.49 L193.76,513.05 L195.26,513.6 L196.76,514.16 L198.26,514.71 L199.77,515.26 L201.27,515.82 L202.77,516.38 L204.27,516.96 L205.78,517.55 L207.28,518.16 L208.78,518.79 L210.28,519.45 L211.79,520.13 L213.29,520.83 L214.79,521.57 L216.29,522.35 L217.8,523.16 L219.3,524.02 L220.8,524.92 L222.3,525.86 L223.81,526.86 L225.31,527.9 L226.81,529.01 L228.31,530.17 L229.82,531.4 L231.32,532.68 L232.82,534.03 L234.32,535.44 L235.83,536.91 L237.33,538.44 L238.83,540.02 L240.33,541.66 L241.84,543.35 L243.34,545.09 L244.84,546.88 L246.34,548.72 L247.85,550.6 L249.35,552.54 L250.85,554.51 L252.35,556.53 L253.86,558.58 L255.36,560.68 L256.86,562.82 L258.36,564.99 L259.87,567.19 L261.37,569.43 L262.87,571.7 L264.38,574 L265.88,576.32 L267.38,578.67 L268.88,581.05 L270.39,583.44 L271.89,585.84 L273.39,588.26 L274.89,590.69 L276.4,593.12 L277.9,595.56 L279.4,598 L280.9,600.44 L282.41,602.87 L283.91,605.3 L285.41,607.71 L286.91,610.11 L288.42,612.49 L289.92,614.85 L291.42,617.19 L292.92,619.51 L294.43,621.79 L295.93,624.05 L297.43,626.27 L298.93,628.45 L300.44,630.59 L301.94,632.69 L303.44,634.75 L304.94,636.77 L306.45,638.75 L307.95,640.69 L309.45,642.6 L310.95,644.47 L312.46,646.32 L313.96,648.13 L315.46,649.92 L316.96,651.68 L318.47,653.42 L319.97,655.13 L321.47,656.83 L322.97,658.5 L324.48,660.16 L325.98,661.81 L327.48,663.44 L328.98,665.06 L330.49,666.67 L331.99,668.27 L333.49,669.87 L334.99,671.46 L336.5,673.05 L338,674.64" stroke="#e8472f" stroke-width="2" fill="none"/>
</g>
<line x1="43.2" y1="387" x2="43.2" y2="673.5" stroke="#9a9a9a" stroke-width="1"/>
<line x1="43" y1="387" x2="335" y2="387" stroke="#9a9a9a" stroke-width="1"/>
<line x1="334.5" y1="387" x2="334.5" y2="674" stroke="#9a9a9a" stroke-width="1"/>
<line x1="43" y1="673.5" x2="335" y2="673.5" stroke="#9a9a9a" stroke-width="1"/>
<line x1="56.45" y1="673.5" x2="56.45" y2="677" stroke="#9a9a9a" stroke-width="1"/>
<text x="56.45" y="688.7" font-size="9.3" fill="#4d4d4d" text-anchor="middle" textLength="15.7" lengthAdjust="spacingAndGlyphs">10%</text>
<line x1="122.67" y1="673.5" x2="122.67" y2="677" stroke="#9a9a9a" stroke-width="1"/>
<text x="122.67" y="688.7" font-size="9.3" fill="#4d4d4d" text-anchor="middle" textLength="15.7" lengthAdjust="spacingAndGlyphs">20%</text>
<line x1="188.9" y1="673.5" x2="188.9" y2="677" stroke="#9a9a9a" stroke-width="1"/>
<text x="188.9" y="688.7" font-size="9.3" fill="#4d4d4d" text-anchor="middle" textLength="15.7" lengthAdjust="spacingAndGlyphs">30%</text>
<line x1="255.12" y1="673.5" x2="255.12" y2="677" stroke="#9a9a9a" stroke-width="1"/>
<text x="255.12" y="688.7" font-size="9.3" fill="#4d4d4d" text-anchor="middle" textLength="15.7" lengthAdjust="spacingAndGlyphs">40%</text>
<line x1="321.35" y1="673.5" x2="321.35" y2="677" stroke="#9a9a9a" stroke-width="1"/>
<text x="321.35" y="688.7" font-size="9.3" fill="#4d4d4d" text-anchor="middle" textLength="15.7" lengthAdjust="spacingAndGlyphs">50%</text>
<line x1="39.5" y1="659.9" x2="43.5" y2="659.9" stroke="#b0b0b0" stroke-width="1"/>
<text x="35.1" y="663.15" font-size="9.3" fill="#4d4d4d" text-anchor="end">0</text>
<line x1="39.5" y1="563.8" x2="43.5" y2="563.8" stroke="#b0b0b0" stroke-width="1"/>
<text x="35.1" y="567.05" font-size="9.3" fill="#4d4d4d" text-anchor="end">0.1</text>
<line x1="39.5" y1="467.7" x2="43.5" y2="467.7" stroke="#b0b0b0" stroke-width="1"/>
<text x="35.1" y="470.95" font-size="9.3" fill="#4d4d4d" text-anchor="end">0.2</text>
</g>
<g>
<line x1="406.45" y1="387.5" x2="406.45" y2="673.5" stroke="#edeef0" stroke-width="1"/>
<line x1="439.56" y1="387.5" x2="439.56" y2="673.5" stroke="#edeef0" stroke-width="1"/>
<line x1="472.67" y1="387.5" x2="472.67" y2="673.5" stroke="#edeef0" stroke-width="1"/>
<line x1="505.79" y1="387.5" x2="505.79" y2="673.5" stroke="#edeef0" stroke-width="1"/>
<line x1="538.9" y1="387.5" x2="538.9" y2="673.5" stroke="#edeef0" stroke-width="1"/>
<line x1="572.01" y1="387.5" x2="572.01" y2="673.5" stroke="#edeef0" stroke-width="1"/>
<line x1="605.12" y1="387.5" x2="605.12" y2="673.5" stroke="#edeef0" stroke-width="1"/>
<line x1="638.24" y1="387.5" x2="638.24" y2="673.5" stroke="#edeef0" stroke-width="1"/>
<line x1="671.35" y1="387.5" x2="671.35" y2="673.5" stroke="#edeef0" stroke-width="1"/>
<line x1="393.5" y1="659.9" x2="684.5" y2="659.9" stroke="#edeef0" stroke-width="1"/>
<line x1="393.5" y1="629.7" x2="684.5" y2="629.7" stroke="#edeef0" stroke-width="1"/>
<line x1="393.5" y1="599.51" x2="684.5" y2="599.51" stroke="#edeef0" stroke-width="1"/>
<line x1="393.5" y1="569.31" x2="684.5" y2="569.31" stroke="#edeef0" stroke-width="1"/>
<line x1="393.5" y1="539.12" x2="684.5" y2="539.12" stroke="#edeef0" stroke-width="1"/>
<line x1="393.5" y1="508.92" x2="684.5" y2="508.92" stroke="#edeef0" stroke-width="1"/>
<line x1="393.5" y1="478.73" x2="684.5" y2="478.73" stroke="#edeef0" stroke-width="1"/>
<line x1="393.5" y1="448.53" x2="684.5" y2="448.53" stroke="#edeef0" stroke-width="1"/>
<line x1="393.5" y1="418.34" x2="684.5" y2="418.34" stroke="#edeef0" stroke-width="1"/>
<line x1="393.5" y1="388.15" x2="684.5" y2="388.15" stroke="#edeef0" stroke-width="1"/>
<clipPath id="clipd"><rect x="393.5" y="387.5" width="291" height="286"/></clipPath>
<g clip-path="url(#clipd)">
<line x1="538.9" y1="387.5" x2="538.9" y2="673.5" stroke="#c9c9cb" stroke-width="2.5"/>
<path d="M393.2,418.34 C393.76,418.67 395.41,419.66 396.52,420.32 C397.62,420.98 398.72,421.65 399.83,422.32 C400.93,422.99 402.04,423.67 403.14,424.35 C404.24,425.02 405.35,425.71 406.45,426.39 C407.55,427.08 408.66,427.77 409.76,428.46 C410.86,429.15 411.97,429.85 413.07,430.55 C414.18,431.26 415.28,431.96 416.38,432.67 C417.49,433.38 418.59,434.09 419.69,434.81 C420.8,435.53 421.9,436.25 423.01,436.97 C424.11,437.7 425.21,438.43 426.32,439.16 C427.42,439.9 428.52,440.64 429.63,441.38 C430.73,442.12 431.84,442.87 432.94,443.62 C434.04,444.37 435.15,445.13 436.25,445.89 C437.35,446.65 438.46,447.41 439.56,448.18 C440.67,448.95 441.77,449.72 442.87,450.5 C443.98,451.28 445.08,452.06 446.19,452.85 C447.29,453.64 448.39,454.43 449.5,455.22 C450.6,456.02 451.7,456.82 452.81,457.63 C453.91,458.44 455.01,459.25 456.12,460.06 C457.22,460.88 458.33,461.7 459.43,462.53 C460.53,463.35 461.64,464.19 462.74,465.02 C463.84,465.86 464.95,466.7 466.05,467.55 C467.16,468.39 468.26,469.25 469.36,470.1 C470.47,470.96 471.57,471.82 472.67,472.69 C473.78,473.56 474.88,474.43 475.99,475.31 C477.09,476.19 478.19,477.08 479.3,477.97 C480.4,478.86 481.5,479.75 482.61,480.65 C483.71,481.55 484.82,482.46 485.92,483.38 C487.02,484.29 488.13,485.21 489.23,486.13 C490.33,487.06 491.44,487.99 492.54,488.93 C493.65,489.86 494.75,490.81 495.85,491.76 C496.96,492.7 498.06,493.66 499.16,494.62 C500.27,495.58 501.37,496.55 502.48,497.53 C503.58,498.5 504.68,499.48 505.79,500.47 C506.89,501.46 508,502.45 509.1,503.45 C510.2,504.45 511.31,505.46 512.41,506.48 C513.51,507.49 514.62,508.51 515.72,509.54 C516.82,510.57 517.93,511.61 519.03,512.65 C520.14,513.69 521.24,514.74 522.34,515.8 C523.45,516.85 524.55,517.92 525.65,518.99 C526.76,520.06 527.86,521.14 528.97,522.23 C530.07,523.31 531.17,524.41 532.28,525.51 C533.38,526.61 534.49,527.72 535.59,528.84 C536.69,529.96 537.8,531.08 538.9,532.22 C540,533.35 541.11,534.49 542.21,535.64 C543.31,536.79 544.42,537.95 545.52,539.12 C546.63,540.29 547.73,541.46 548.83,542.65 C549.94,543.83 551.04,545.02 552.14,546.22 C553.25,547.43 554.35,548.64 555.46,549.86 C556.56,551.08 557.66,552.3 558.77,553.54 C559.87,554.78 560.98,556.03 562.08,557.28 C563.18,558.54 564.29,559.8 565.39,561.08 C566.49,562.36 567.6,563.64 568.7,564.94 C569.8,566.23 570.91,567.54 572.01,568.85 C573.12,570.17 574.22,571.49 575.32,572.83 C576.43,574.16 577.53,575.51 578.63,576.86 C579.74,578.22 580.84,579.59 581.95,580.97 C583.05,582.34 584.15,583.73 585.26,585.13 C586.36,586.53 587.46,587.94 588.57,589.36 C589.67,590.79 590.78,592.22 591.88,593.67 C592.98,595.11 594.09,596.57 595.19,598.04 C596.29,599.51 597.4,600.99 598.5,602.48 C599.61,603.97 600.71,605.48 601.81,607 C602.92,608.51 604.02,610.04 605.12,611.59 C606.23,613.13 607.33,614.69 608.44,616.26 C609.54,617.83 610.64,619.41 611.75,621 C612.85,622.6 613.95,624.21 615.06,625.83 C616.16,627.46 617.27,629.09 618.37,630.75 C619.47,632.4 620.58,634.06 621.68,635.74 C622.78,637.42 623.89,639.12 624.99,640.83 C626.1,642.54 627.2,644.26 628.3,646 C629.41,647.75 630.51,649.5 631.62,651.27 C632.72,653.04 633.82,654.83 634.93,656.64 C636.03,658.44 637.13,660.26 638.24,662.1 C639.34,663.93 640.44,665.79 641.55,667.66 C642.65,669.53 643.76,671.41 644.86,673.32 C645.96,675.23 647.07,677.15 648.17,679.09 C649.27,681.03 650.93,683.99 651.48,684.97" stroke="#8f1f5b" stroke-width="2" fill="none"/>
<line x1="393.5" y1="659.9" x2="685" y2="659.9" stroke="#2a2a2a" stroke-width="1.8"/>
<path d="M393.2,419.04 L394.7,419.92 L396.2,420.8 L397.7,421.69 L399.2,422.58 L400.7,423.48 L402.2,424.38 L403.7,425.29 L405.2,426.2 L406.7,427.13 L408.19,428.05 L409.69,428.98 L411.19,429.92 L412.69,430.86 L414.19,431.81 L415.69,432.77 L417.19,433.73 L418.69,434.69 L420.19,435.67 L421.69,436.64 L423.18,437.63 L424.68,438.62 L426.18,439.61 L427.68,440.61 L429.18,441.62 L430.68,442.63 L432.18,443.65 L433.68,444.67 L435.18,445.7 L436.67,446.74 L438.17,447.78 L439.67,448.83 L441.17,449.88 L442.67,450.94 L444.17,452 L445.67,453.07 L447.17,454.15 L448.67,455.23 L450.17,456.32 L451.66,457.42 L453.16,458.52 L454.66,459.62 L456.16,460.74 L457.66,461.85 L459.16,462.98 L460.66,464.11 L462.16,465.24 L463.66,466.39 L465.16,467.54 L466.65,468.69 L468.15,469.85 L469.65,471.02 L471.15,472.19 L472.65,473.37 L474.15,474.55 L475.65,475.74 L477.15,476.94 L478.65,478.14 L480.14,479.35 L481.64,480.57 L483.14,481.79 L484.64,483.02 L486.14,484.25 L487.64,485.49 L489.14,486.74 L490.64,487.99 L492.14,489.25 L493.64,490.51 L495.13,491.79 L496.63,493.06 L498.13,494.35 L499.63,495.64 L501.13,496.93 L502.63,498.23 L504.13,499.54 L505.63,500.86 L507.13,502.18 L508.63,503.51 L510.12,504.84 L511.62,506.18 L513.12,507.53 L514.62,508.89 L516.12,510.25 L517.62,511.63 L519.12,513.02 L520.62,514.42 L522.12,515.83 L523.61,517.25 L525.11,518.69 L526.61,520.15 L528.11,521.62 L529.61,523.1 L531.11,524.61 L532.61,526.13 L534.11,527.67 L535.61,529.23 L537.11,530.81 L538.6,532.42 L540.1,534.04 L541.6,535.69 L543.1,537.35 L544.6,539.02 L546.1,540.71 L547.6,542.4 L549.1,544.1 L550.6,545.8 L552.1,547.5 L553.59,549.19 L555.09,550.88 L556.59,552.56 L558.09,554.22 L559.59,555.87 L561.09,557.5 L562.59,559.1 L564.09,560.68 L565.59,562.23 L567.08,563.75 L568.58,565.24 L570.08,566.7 L571.58,568.13 L573.08,569.54 L574.58,570.92 L576.08,572.27 L577.58,573.6 L579.08,574.91 L580.58,576.2 L582.07,577.46 L583.57,578.71 L585.07,579.94 L586.57,581.15 L588.07,582.34 L589.57,583.51 L591.07,584.68 L592.57,585.82 L594.07,586.96 L595.57,588.09 L597.06,589.2 L598.56,590.3 L600.06,591.4 L601.56,592.49 L603.06,593.57 L604.56,594.65 L606.06,595.72 L607.56,596.79 L609.06,597.86 L610.55,598.92 L612.05,599.99 L613.55,601.05 L615.05,602.12 L616.55,603.19 L618.05,604.27 L619.55,605.35 L621.05,606.44 L622.55,607.53 L624.05,608.63 L625.54,609.74 L627.04,610.86 L628.54,611.99 L630.04,613.14 L631.54,614.29 L633.04,615.47 L634.54,616.65 L636.04,617.85 L637.54,619.07 L639.04,620.31 L640.53,621.57 L642.03,622.85 L643.53,624.14 L645.03,625.46 L646.53,626.8 L648.03,628.17 L649.53,629.55 L651.03,630.97 L652.53,632.41 L654.02,633.87 L655.52,635.37 L657.02,636.89 L658.52,638.44 L660.02,640.02 L661.52,641.62 L663.02,643.23 L664.52,644.86 L666.02,646.49 L667.52,648.13 L669.01,649.77 L670.51,651.4 L672.01,653.03 L673.51,654.65 L675.01,656.25 L676.51,657.82 L678.01,659.38 L679.51,660.9 L681.01,662.4 L682.51,663.85 L684,665.27 L685.5,666.64 L687,667.96 L688.5,669.23 L690,670.44" stroke="#4cbde3" stroke-width="2" fill="none"/>
<path d="M393.2,419.2 L394.7,420.1 L396.2,421 L397.69,421.91 L399.19,422.82 L400.69,423.73 L402.18,424.65 L403.68,425.58 L405.18,426.5 L406.67,427.44 L408.17,428.37 L409.66,429.31 L411.16,430.26 L412.66,431.21 L414.15,432.16 L415.65,433.12 L417.15,434.08 L418.64,435.05 L420.14,436.02 L421.64,437 L423.13,437.98 L424.63,438.97 L426.12,439.96 L427.62,440.96 L429.12,441.96 L430.61,442.97 L432.11,443.98 L433.61,445 L435.1,446.02 L436.6,447.05 L438.1,448.08 L439.59,449.12 L441.09,450.16 L442.58,451.21 L444.08,452.27 L445.58,453.33 L447.07,454.39 L448.57,455.47 L450.07,456.54 L451.56,457.63 L453.06,458.72 L454.56,459.81 L456.05,460.92 L457.55,462.02 L459.04,463.14 L460.54,464.26 L462.04,465.38 L463.53,466.52 L465.03,467.65 L466.53,468.8 L468.02,469.95 L469.52,471.11 L471.02,472.27 L472.51,473.45 L474.01,474.62 L475.5,475.81 L477,477 L478.5,478.2 L479.99,479.4 L481.49,480.62 L482.99,481.83 L484.48,483.06 L485.98,484.29 L487.47,485.53 L488.97,486.78 L490.47,488.04 L491.96,489.3 L493.46,490.57 L494.96,491.84 L496.45,493.13 L497.95,494.42 L499.45,495.72 L500.94,497.03 L502.44,498.34 L503.93,499.66 L505.43,500.99 L506.93,502.33 L508.42,503.68 L509.92,505.03 L511.42,506.4 L512.91,507.77 L514.41,509.15 L515.91,510.54 L517.4,511.94 L518.9,513.35 L520.39,514.77 L521.89,516.2 L523.39,517.64 L524.88,519.09 L526.38,520.55 L527.88,522.02 L529.37,523.51 L530.87,525.01 L532.37,526.52 L533.86,528.04 L535.36,529.57 L536.85,531.12 L538.35,532.68 L539.85,534.25 L541.34,535.83 L542.84,537.42 L544.34,539.02 L545.83,540.62 L547.33,542.23 L548.83,543.85 L550.32,545.47 L551.82,547.09 L553.31,548.71 L554.81,550.34 L556.31,551.97 L557.8,553.59 L559.3,555.21 L560.8,556.83 L562.29,558.45 L563.79,560.06 L565.28,561.67 L566.78,563.26 L568.28,564.86 L569.77,566.44 L571.27,568.02 L572.77,569.59 L574.26,571.15 L575.76,572.7 L577.26,574.24 L578.75,575.77 L580.25,577.29 L581.74,578.8 L583.24,580.3 L584.74,581.78 L586.23,583.25 L587.73,584.71 L589.23,586.15 L590.72,587.57 L592.22,588.99 L593.72,590.38 L595.21,591.76 L596.71,593.12 L598.2,594.46 L599.7,595.79 L601.2,597.09 L602.69,598.38 L604.19,599.64 L605.69,600.89 L607.18,602.11 L608.68,603.32 L610.18,604.5 L611.67,605.67 L613.17,606.83 L614.66,607.98 L616.16,609.12 L617.66,610.26 L619.15,611.39 L620.65,612.52 L622.15,613.66 L623.64,614.8 L625.14,615.94 L626.64,617.1 L628.13,618.26 L629.63,619.44 L631.12,620.64 L632.62,621.85 L634.12,623.09 L635.61,624.34 L637.11,625.62 L638.61,626.92 L640.1,628.24 L641.6,629.59 L643.09,630.97 L644.59,632.38 L646.09,633.81 L647.58,635.27 L649.08,636.77 L650.58,638.3 L652.07,639.86 L653.57,641.46 L655.07,643.09 L656.56,644.76 L658.06,646.47 L659.55,648.21 L661.05,649.99 L662.55,651.8 L664.04,653.65 L665.54,655.53 L667.04,657.46 L668.53,659.41 L670.03,661.41 L671.53,663.44 L673.02,665.51 L674.52,667.61 L676.01,669.75 L677.51,671.93 L679.01,674.14 L680.5,676.39 L682,678.68" stroke="#17a08c" stroke-width="2" fill="none"/>
<path d="M393.5,418.75 L395,419.66 L396.49,420.57 L397.99,421.48 L399.49,422.39 L400.99,423.3 L402.48,424.21 L403.98,425.12 L405.48,426.03 L406.98,426.94 L408.47,427.85 L409.97,428.76 L411.47,429.68 L412.97,430.59 L414.46,431.5 L415.96,432.42 L417.46,433.33 L418.96,434.25 L420.45,435.16 L421.95,436.08 L423.45,437 L424.95,437.92 L426.44,438.84 L427.94,439.76 L429.44,440.68 L430.94,441.6 L432.43,442.53 L433.93,443.46 L435.43,444.38 L436.93,445.31 L438.42,446.24 L439.92,447.18 L441.42,448.11 L442.92,449.04 L444.41,449.98 L445.91,450.92 L447.41,451.86 L448.91,452.81 L450.4,453.75 L451.9,454.7 L453.4,455.65 L454.9,456.6 L456.39,457.55 L457.89,458.51 L459.39,459.46 L460.89,460.42 L462.38,461.39 L463.88,462.35 L465.38,463.32 L466.88,464.29 L468.37,465.26 L469.87,466.24 L471.37,467.22 L472.87,468.2 L474.36,469.18 L475.86,470.17 L477.36,471.16 L478.86,472.15 L480.35,473.15 L481.85,474.15 L483.35,475.15 L484.85,476.15 L486.34,477.16 L487.84,478.17 L489.34,479.19 L490.84,480.21 L492.33,481.23 L493.83,482.26 L495.33,483.29 L496.83,484.32 L498.32,485.36 L499.82,486.4 L501.32,487.44 L502.82,488.49 L504.31,489.54 L505.81,490.6 L507.31,491.66 L508.81,492.73 L510.3,493.8 L511.8,494.87 L513.3,495.95 L514.8,497.03 L516.29,498.11 L517.79,499.21 L519.29,500.3 L520.79,501.4 L522.28,502.51 L523.78,503.62 L525.28,504.73 L526.78,505.85 L528.27,506.97 L529.77,508.1 L531.27,509.23 L532.77,510.37 L534.26,511.52 L535.76,512.66 L537.26,513.82 L538.76,514.98 L540.25,516.14 L541.75,517.31 L543.25,518.49 L544.74,519.67 L546.24,520.86 L547.74,522.05 L549.24,523.24 L550.73,524.45 L552.23,525.66 L553.73,526.87 L555.23,528.09 L556.72,529.32 L558.22,530.55 L559.72,531.79 L561.22,533.03 L562.71,534.29 L564.21,535.54 L565.71,536.81 L567.21,538.07 L568.7,539.35 L570.2,540.63 L571.7,541.92 L573.2,543.22 L574.69,544.52 L576.19,545.83 L577.69,547.13 L579.19,548.44 L580.68,549.75 L582.18,551.05 L583.68,552.34 L585.18,553.61 L586.67,554.88 L588.17,556.12 L589.67,557.35 L591.17,558.55 L592.66,559.73 L594.16,560.88 L595.66,562 L597.16,563.08 L598.65,564.13 L600.15,565.14 L601.65,566.1 L603.15,567.03 L604.64,567.9 L606.14,568.72 L607.64,569.49 L609.14,570.2 L610.63,570.86 L612.13,571.46 L613.63,572.01 L615.13,572.52 L616.62,572.98 L618.12,573.4 L619.62,573.79 L621.12,574.15 L622.61,574.48 L624.11,574.78 L625.61,575.06 L627.11,575.33 L628.6,575.58 L630.1,575.82 L631.6,576.05 L633.1,576.28 L634.59,576.52 L636.09,576.75 L637.59,577 L639.09,577.25 L640.58,577.52 L642.08,577.81 L643.58,578.11 L645.08,578.44 L646.57,578.8 L648.07,579.19 L649.57,579.61 L651.07,580.06 L652.56,580.56 L654.06,581.1 L655.56,581.68 L657.06,582.31 L658.55,583 L660.05,583.74 L661.55,584.54 L663.05,585.4 L664.54,586.32 L666.04,587.32 L667.54,588.38 L669.04,589.52 L670.53,590.74 L672.03,592.04 L673.53,593.42 L675.03,594.89 L676.52,596.45 L678.02,598.11 L679.52,599.86 L681.02,601.71 L682.51,603.66 L684.01,605.72 L685.51,607.89 L687.01,610.18 L688.5,612.58 L690,615.1" stroke="#e8472f" stroke-width="2" fill="none"/>
</g>
<line x1="393.5" y1="387" x2="393.5" y2="673.5" stroke="#9a9a9a" stroke-width="1"/>
<line x1="393" y1="387" x2="685" y2="387" stroke="#9a9a9a" stroke-width="1"/>
<line x1="684.5" y1="387" x2="684.5" y2="674" stroke="#9a9a9a" stroke-width="1"/>
<line x1="393" y1="673.5" x2="685" y2="673.5" stroke="#9a9a9a" stroke-width="1"/>
<line x1="406.45" y1="673.5" x2="406.45" y2="677" stroke="#9a9a9a" stroke-width="1"/>
<text x="406.45" y="688.7" font-size="9.3" fill="#4d4d4d" text-anchor="middle" textLength="15.7" lengthAdjust="spacingAndGlyphs">10%</text>
<line x1="472.67" y1="673.5" x2="472.67" y2="677" stroke="#9a9a9a" stroke-width="1"/>
<text x="472.67" y="688.7" font-size="9.3" fill="#4d4d4d" text-anchor="middle" textLength="15.7" lengthAdjust="spacingAndGlyphs">20%</text>
<line x1="538.9" y1="673.5" x2="538.9" y2="677" stroke="#9a9a9a" stroke-width="1"/>
<text x="538.9" y="688.7" font-size="9.3" fill="#4d4d4d" text-anchor="middle" textLength="15.7" lengthAdjust="spacingAndGlyphs">30%</text>
<line x1="605.12" y1="673.5" x2="605.12" y2="677" stroke="#9a9a9a" stroke-width="1"/>
<text x="605.12" y="688.7" font-size="9.3" fill="#4d4d4d" text-anchor="middle" textLength="15.7" lengthAdjust="spacingAndGlyphs">40%</text>
<line x1="671.35" y1="673.5" x2="671.35" y2="677" stroke="#9a9a9a" stroke-width="1"/>
<text x="671.35" y="688.7" font-size="9.3" fill="#4d4d4d" text-anchor="middle" textLength="15.7" lengthAdjust="spacingAndGlyphs">50%</text>
<line x1="389.5" y1="659.9" x2="393.5" y2="659.9" stroke="#b0b0b0" stroke-width="1"/>
<text x="385.1" y="663.15" font-size="9.3" fill="#4d4d4d" text-anchor="end">0</text>
<line x1="389.5" y1="599.51" x2="393.5" y2="599.51" stroke="#b0b0b0" stroke-width="1"/>
<text x="385.1" y="602.76" font-size="9.3" fill="#4d4d4d" text-anchor="end">0.1</text>
<line x1="389.5" y1="539.12" x2="393.5" y2="539.12" stroke="#b0b0b0" stroke-width="1"/>
<text x="385.1" y="542.37" font-size="9.3" fill="#4d4d4d" text-anchor="end">0.2</text>
<line x1="389.5" y1="478.73" x2="393.5" y2="478.73" stroke="#b0b0b0" stroke-width="1"/>
<text x="385.1" y="481.98" font-size="9.3" fill="#4d4d4d" text-anchor="end">0.3</text>
<line x1="389.5" y1="418.34" x2="393.5" y2="418.34" stroke="#b0b0b0" stroke-width="1"/>
<text x="385.1" y="421.59" font-size="9.3" fill="#4d4d4d" text-anchor="end">0.4</text>
</g>
<text x="61.5" y="382.5" font-size="10.7" fill="#333333" textLength="108.5" lengthAdjust="spacingAndGlyphs">Lower toxicity aversion</text>
<text x="205.6" y="382.6" font-size="10.7" fill="#333333" textLength="111.6" lengthAdjust="spacingAndGlyphs">Higher toxicity aversion</text>
<text x="188.7" y="704.1" font-size="10.7" fill="#333333" text-anchor="middle" textLength="100.6" lengthAdjust="spacingAndGlyphs">Threshold probability</text>
<text x="15.5" y="530" font-size="10.7" fill="#333333" text-anchor="middle" textLength="52.1" lengthAdjust="spacingAndGlyphs" transform="rotate(-90 15.5 530)">Net benefit</text>
<text x="411.7" y="382.5" font-size="10.7" fill="#333333" textLength="108.5" lengthAdjust="spacingAndGlyphs">Lower toxicity aversion</text>
<text x="555.8" y="382.6" font-size="10.7" fill="#333333" textLength="111.6" lengthAdjust="spacingAndGlyphs">Higher toxicity aversion</text>
<text x="538.9" y="704.1" font-size="10.7" fill="#333333" text-anchor="middle" textLength="100.6" lengthAdjust="spacingAndGlyphs">Threshold probability</text>
<text x="365.7" y="530" font-size="10.7" fill="#333333" text-anchor="middle" textLength="52.1" lengthAdjust="spacingAndGlyphs" transform="rotate(-90 365.7 530)">Net benefit</text>
<text x="0" y="373.3" font-size="14.4" fill="#111" font-weight="bold" stroke="#111" stroke-width="0.4">c</text>
<text x="349.9" y="373.4" font-size="14.4" fill="#111" font-weight="bold" stroke="#111" stroke-width="0.4">d</text>
<rect x="39" y="713" width="14" height="13.5" fill="none" stroke="#8f1f5b" stroke-width="1.6"/>
<line x1="39" y1="719.75" x2="53" y2="719.75" stroke="#8f1f5b" stroke-width="1.6"/>
<text x="60.3" y="722.9" font-size="10.6" fill="#333333" textLength="36" lengthAdjust="spacingAndGlyphs">Treat all</text>
<rect x="113.9" y="713" width="14" height="13.5" fill="none" stroke="#2a2a2a" stroke-width="1.6"/>
<line x1="113.9" y1="719.75" x2="127.9" y2="719.75" stroke="#2a2a2a" stroke-width="1.6"/>
<text x="134.2" y="722.9" font-size="10.6" fill="#333333" textLength="48.9" lengthAdjust="spacingAndGlyphs">Treat none</text>
<rect x="201.1" y="713" width="14" height="13.5" fill="none" stroke="#7b8cbf" stroke-width="1.6"/>
<line x1="201.1" y1="719.75" x2="215.1" y2="719.75" stroke="#7b8cbf" stroke-width="1.6"/>
<text x="220.4" y="722.9" font-size="10.6" fill="#333333" textLength="45.2" lengthAdjust="spacingAndGlyphs">Lab14Reg</text>
<rect x="274.6" y="713" width="14" height="13.5" fill="none" stroke="#e8472f" stroke-width="1.6"/>
<line x1="274.6" y1="719.75" x2="288.6" y2="719.75" stroke="#e8472f" stroke-width="1.6"/>
<text x="293.4" y="722.9" font-size="10.6" fill="#333333" textLength="37.2" lengthAdjust="spacingAndGlyphs">InflaMix</text>
<rect x="376.7" y="713" width="14" height="13.5" fill="none" stroke="#8f1f5b" stroke-width="1.6"/>
<line x1="376.7" y1="719.75" x2="390.7" y2="719.75" stroke="#8f1f5b" stroke-width="1.6"/>
<text x="396.1" y="722.9" font-size="10.6" fill="#333333" textLength="36.2" lengthAdjust="spacingAndGlyphs">Treat all</text>
<rect x="444.9" y="713" width="14" height="13.5" fill="none" stroke="#2a2a2a" stroke-width="1.6"/>
<line x1="444.9" y1="719.75" x2="458.9" y2="719.75" stroke="#2a2a2a" stroke-width="1.6"/>
<text x="464.6" y="722.9" font-size="10.6" fill="#333333" textLength="48.7" lengthAdjust="spacingAndGlyphs">Treat none</text>
<rect x="525.5" y="713" width="14" height="13.5" fill="none" stroke="#4cbde3" stroke-width="1.6"/>
<line x1="525.5" y1="719.75" x2="539.5" y2="719.75" stroke="#4cbde3" stroke-width="1.6"/>
<text x="545.3" y="722.9" font-size="10.6" fill="#333333" textLength="21.2" lengthAdjust="spacingAndGlyphs">Base</text>
<rect x="577.9" y="713" width="14" height="13.5" fill="none" stroke="#17a08c" stroke-width="1.6"/>
<line x1="577.9" y1="719.75" x2="591.9" y2="719.75" stroke="#17a08c" stroke-width="1.6"/>
<text x="597.1" y="722.9" font-size="10.6" fill="#333333" textLength="19.2" lengthAdjust="spacingAndGlyphs">CRP</text>
<rect x="628.7" y="713" width="14" height="13.5" fill="none" stroke="#e8472f" stroke-width="1.6"/>
<line x1="628.7" y1="719.75" x2="642.7" y2="719.75" stroke="#e8472f" stroke-width="1.6"/>
<text x="647.6" y="722.9" font-size="10.6" fill="#333333" textLength="37.2" lengthAdjust="spacingAndGlyphs">InflaMix</text>
</svg>
</body></html>
